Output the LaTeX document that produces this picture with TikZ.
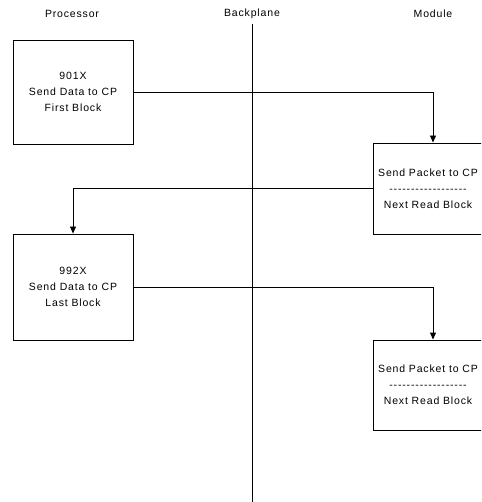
\documentclass[tikz,border=0pt]{standalone}
\usepackage{fontspec}
\newfontfamily\lab{Liberation Sans}[LetterSpace=8]
\usetikzlibrary{arrows.meta}
\begin{document}
\begin{tikzpicture}[x=1pt,y=-1pt,
  box/.style={draw, line width=0.9pt, minimum width=120pt, align=center,
    font=\lab\fontsize{10.5}{16}\selectfont, inner sep=0pt},
  boxtext/.style={align=center, font=\lab\fontsize{10.5}{16}\selectfont, inner sep=0pt},
  hdr/.style={font=\lab\fontsize{10.5}{12}\selectfont},
  conn/.style={line width=0.9pt},
  arr/.style={conn, -{Triangle[width=6pt,length=7pt]}}]
\useasboundingbox (0,0) rectangle (481,502);
\clip (0,0) rectangle (481,502);
\fill[white] (0,0) rectangle (481,502);
% headers
\node[hdr] (hProc) at (72,14) {Processor};
\node[hdr] (hBack) at (252,14) {Backplane};
\node[hdr] (hMod) at (433,14) {Module};
% backplane
\coordinate (bpTop) at (252,24);
\coordinate (bpBot) at (252,502);
\draw[conn] (bpTop) -- (bpBot);
% boxes
\node[box, minimum height=104pt] (b1) at (73,92) {901X\\Send Data to CP\\First Block};
\node[box, minimum height=91pt] (b2) at (433,188.5) {};
\node[boxtext] (t2) at ([xshift=-5pt]b2.center) {Send Packet to CP\\-{}-{}-{}-{}-{}-{}-{}-{}-{}-{}-{}-{}-{}-{}-{}-{}-{}-{}\\Next Read Block};
\node[box, minimum height=106pt] (b3) at (73,287) {992X\\Send Data to CP\\Last Block};
\node[box, minimum height=90pt] (b4) at (433,385) {};
\node[boxtext] (t4) at ([xshift=-5pt]b4.center) {Send Packet to CP\\-{}-{}-{}-{}-{}-{}-{}-{}-{}-{}-{}-{}-{}-{}-{}-{}-{}-{}\\Next Read Block};
% connectors
\draw[arr] (b1.east) -| (b2.north);
\draw[arr] (b2.west) -| (b3.north);
\draw[arr] (b3.east) -| (b4.north);
\end{tikzpicture}
\end{document}
